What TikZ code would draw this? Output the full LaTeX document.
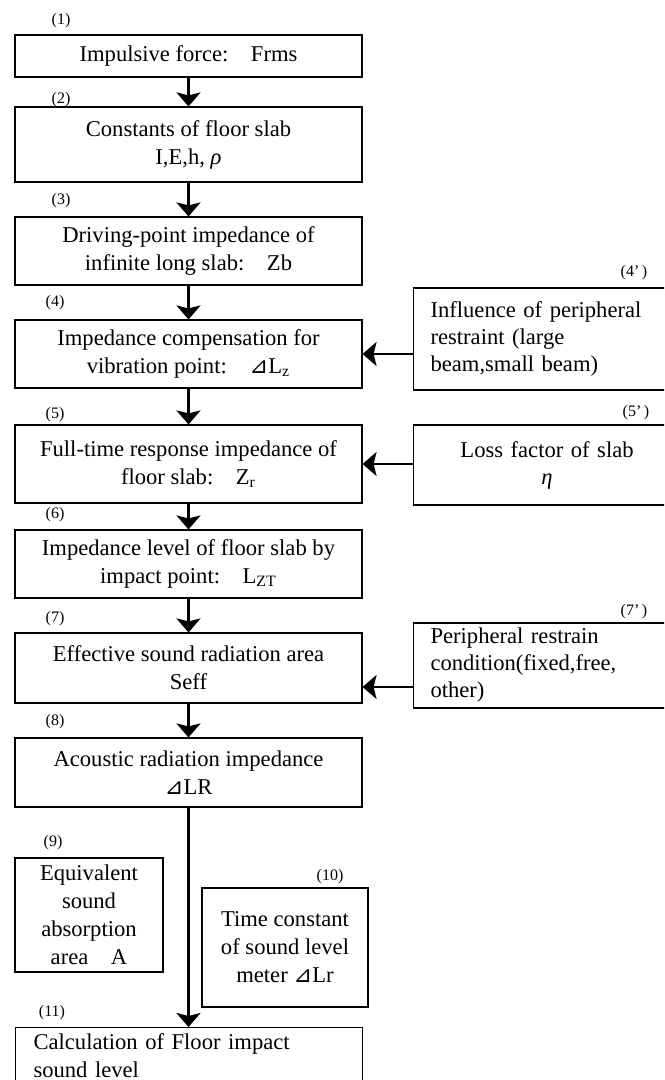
\documentclass[tikz,border=0pt]{standalone}
\usepackage{fontspec}
\setmainfont{Liberation Serif}
\newfontfamily\symfont{DejaVu Sans}
\usepackage{tikz}
\usetikzlibrary{arrows.meta,positioning}
\newcommand{\rtri}{{\symfont\itshape ⊿}}

\begin{document}
\begin{tikzpicture}[x=0.5pt, y=-0.5pt, >={Stealth[length=7pt,width=12pt,inset=1.5pt]},
  stage/.style={draw, line width=0.55pt, align=center, inner sep=0pt, minimum width=173.5pt, font=\fontsize{11.3}{14}\selectfont},
  factor/.style={draw, line width=0.55pt, align=left, anchor=west, inner xsep=8.5pt, inner ysep=0pt, text width=116.5pt, font=\fontsize{11.3}{13.5}\selectfont},
  tag/.style={inner sep=0pt, font=\fontsize{8}{9}\selectfont},
  flow/.style={->, line width=1.3pt}]
\path[use as bounding box] (0,0) rectangle (664,1080);
\clip (0,0) rectangle (664,1080);

% main chain
\node[stage, minimum height=21pt] (S1) at (188.5,56) {Impulsive force:\quad Frms};
\node[stage, minimum height=37.5pt] (S2) at (188.5,144.5) {Constants of floor slab\\ I,E,h, \textit{ρ}};
\node[stage, minimum height=34pt] (S3) at (188.5,251) {Driving-point impedance of\\ infinite long slab:\quad Zb};
\node[stage, minimum height=34pt] (S4) at (188.5,354) {Impedance compensation for\\ vibration point:\quad \rtri L\textsubscript{z}};
\node[stage, minimum height=39pt] (S5) at (188.5,464) {Full-time response impedance of\\ floor slab:\quad Z\textsubscript{r}};
\node[stage, minimum height=34pt] (S6) at (188.5,564) {Impedance level of floor slab by\\ impact point:\quad L\textsubscript{ZT}};
\node[stage, minimum height=35pt] (S7) at (188.5,668) {Effective sound radiation area\\ Seff};
\node[stage, minimum height=34.5pt] (S8) at (188.5,772.5) {Acoustic radiation impedance\\ \rtri LR};
\node[stage, minimum width=74pt, minimum height=57pt] (S9) at (89,915) {Equivalent\\ sound\\ absorption\\ area\quad A};
\node[stage, minimum width=83pt, minimum height=59.5pt] (S10) at (285,947.5) {Time constant\\ of sound level\\ meter \rtri Lr};
\node[stage, anchor=north west, align=left, inner xsep=8.5pt, inner ysep=3pt, text width=155.5pt] (S11) at (15,1027) {Calculation of Floor impact\\ sound level};

% side factors
\node[factor, minimum height=51pt] (P4) at (413,339) {Influence of peripheral\\ restraint (large\\ beam,small beam)};
\node[factor, align=center, minimum height=40pt] (P5) at (413,465) {Loss factor of slab\\ \textit{η}};
\node[factor, minimum height=42.5pt] (P7) at (413,665.5) {Peripheral restrain\\ condition(fixed,free,\\ other)};

% numbers
\node[tag] (t1) at (61,21) {(1)};
\node[tag] (t2) at (61,100) {(2)};
\node[tag] (t3) at (61,201) {(3)};
\node[tag] (t4) at (55,303) {(4)};
\node[tag] (t5) at (55,415) {(5)};
\node[tag] (t6) at (55,515) {(6)};
\node[tag] (t7) at (55,619) {(7)};
\node[tag] (t8) at (55,722) {(8)};
\node[tag] (t9) at (53,843) {(9)};
\node[tag] (t10) at (330,877) {(10)};
\node[tag] (t11) at (52,1013) {(11)};
\node[tag] (t4p) at (634,273) {(4'\,)};
\node[tag] (t5p) at (636,413) {(5'\,)};
\node[tag] (t7p) at (634,612) {(7'\,)};

% arrows
\foreach \a/\b in {S1/S2,S2/S3,S3/S4,S4/S5,S5/S6,S6/S7,S7/S8}
  \draw[flow] (\a) -- (\b);
\draw[flow] (S8) -- (S8 |- S11.north);
\draw[flow] (P4.west |- S4) -- (S4.east);
\draw[flow] (P5.west |- S5) -- (S5.east);
\coordinate (m7) at ([yshift=-9.5pt]S7.east);
\draw[flow] (P7.west |- m7) -- (m7);
\end{tikzpicture}
\end{document}
